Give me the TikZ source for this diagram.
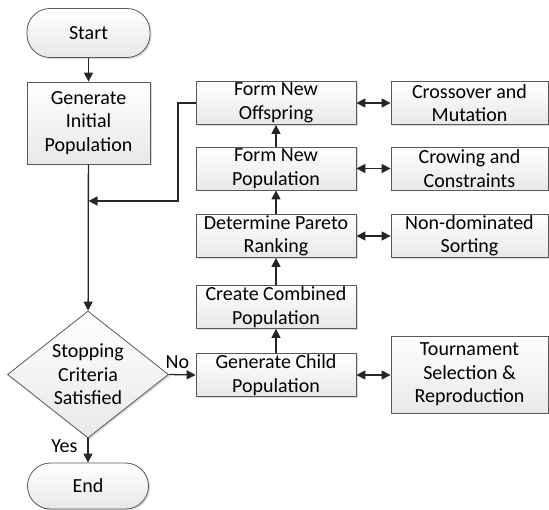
\documentclass[tikz,border=0pt]{standalone}
\usepackage{fontspec}
\setmainfont{Carlito}
\usetikzlibrary{shapes.geometric,arrows.meta,shadows}
\begin{document}
\begin{tikzpicture}[x=1pt,y=-1pt,
  font=\fontsize{20}{23.5}\selectfont,
  box/.style={draw=black!65, line width=0.8pt, top color=white, bottom color=black!9,
    drop shadow={shadow xshift=1.5pt,shadow yshift=-1.5pt,fill=black!30},
    align=center, inner sep=0pt, minimum height=43pt},
  lbox/.style={box, minimum width=160pt},
  rbox/.style={box, minimum width=157pt},
  term/.style={box, rounded corners=23pt},
  arr/.style={line width=1.3pt, draw=black!85, -{Triangle[length=9pt,width=9pt]}},
  darr/.style={line width=1.3pt, draw=black!85, {Triangle[length=9pt,width=9pt]}-{Triangle[length=9pt,width=9pt]}},
  lbl/.style={inner sep=0pt}]
\useasboundingbox (0,0) rectangle (549,510);
% left column
\node[term, minimum width=123pt, minimum height=49pt] (start) at (88.5,33) {Start};
\node[box, minimum width=123pt, minimum height=82pt] (init) at (88.5,123) {Generate\\Initial\\Population};
\node[diamond, draw=black!65, line width=0.8pt, top color=white, bottom color=black!9,
  drop shadow={shadow xshift=1.5pt,shadow yshift=-1.5pt,fill=black!30},
  minimum width=161pt, minimum height=127pt, inner sep=0pt] (dec) at (88,374.5) {};
\node[align=center] (dectxt) at (88,374.5) {Stopping\\Criteria\\Satisfied};
\node[term, minimum width=121pt, minimum height=46pt] (end) at (88,486) {End};
% middle column
\node[lbox] (off) at (276,103) {Form New\\Offspring};
\node[lbox] (pop) at (276,168.5) {Form New\\Population};
\node[lbox] (par) at (276,236) {Determine Pareto\\Ranking};
\node[lbox] (comb) at (276,307) {Create Combined\\Population};
\node[lbox] (child) at (276,375) {Generate Child\\Population};
% right column
\node[rbox] (cross) at (469.5,103) {Crossover and\\Mutation};
\node[rbox] (crow) at (469.5,168.5) {Crowing and\\Constraints};
\node[rbox] (nds) at (469.5,236) {Non-dominated\\Sorting};
\node[rbox, minimum height=77pt] (tour) at (469.5,374.5) {Tournament\\Selection \&\\Reproduction};
% connectors
\draw[arr] (start) -- (init);
\draw[arr] (init) -- (dec);
\coordinate (fb1) at (178,103);
\coordinate (fb2) at (178,201);
\coordinate (fb3) at (88.5,201);
\draw[arr] (off.west) -- (fb1) -- (fb2) -- (fb3);
\draw[arr] (dec.east) -- node[lbl, anchor=south, pos=0.32, yshift=5pt] (no) {No} (child.west);
\draw[arr] (dec.south) -- node[lbl, anchor=east, pos=0.3, xshift=-10pt] (yes) {Yes} (end);
\draw[arr] (child) -- (comb);
\draw[arr] (comb) -- (par);
\draw[arr] (par) -- (pop);
\draw[arr] (pop) -- (off);
\draw[darr] (off) -- (cross);
\draw[darr] (pop) -- (crow);
\draw[darr] (par) -- (nds);
\draw[darr] (child.east) -- (child.east -| tour.west);
\end{tikzpicture}
\end{document}
